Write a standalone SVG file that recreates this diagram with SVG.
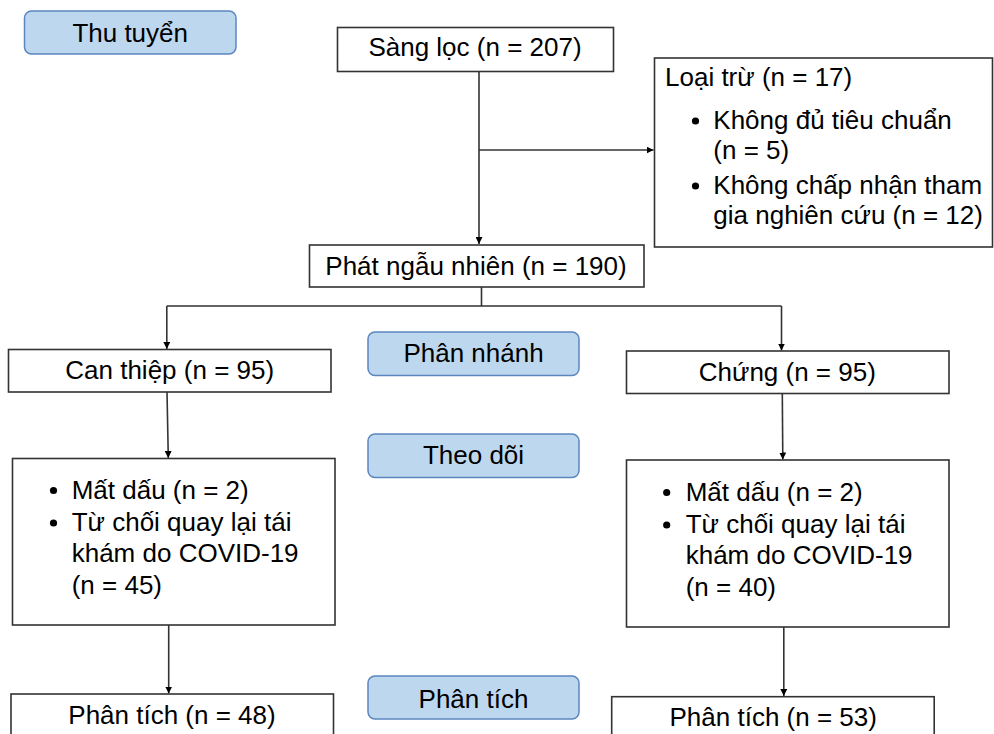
<svg xmlns="http://www.w3.org/2000/svg" width="994" height="734" viewBox="0 0 994 734">
<defs>
<style>
.box{fill:#fff;stroke:#333;stroke-width:1.6}
.lbl{fill:#BDD7EE;stroke:#5B86BE;stroke-width:1.5}
.t{font-family:"Liberation Sans",Arial,sans-serif;font-size:26px;fill:#000}
.c{text-anchor:middle}
.ln{fill:none;stroke:#333;stroke-width:1.6}
.dot{fill:#000}
</style>
<marker id="ah" viewBox="0 0 10 10" refX="10" refY="5" markerWidth="7" markerHeight="7" markerUnits="userSpaceOnUse" orient="auto">
<path d="M0,0 L10,5 L0,10 Z" fill="#000"/>
</marker>
</defs>
<rect width="994" height="734" fill="#fff"/>

<g id="connectors">
<path class="ln" d="M479,71.5 L479,244" marker-end="url(#ah)"/>
<path class="ln" d="M479,150 L653.5,150" marker-end="url(#ah)"/>
<path class="ln" d="M481.5,287 L481.5,306 M166.8,306 L781.5,306"/>
<path class="ln" d="M166.8,306 L166.8,349" marker-end="url(#ah)"/>
<path class="ln" d="M781.5,306 L781.5,350.5" marker-end="url(#ah)"/>
<path class="ln" d="M167,392 L168.3,458" marker-end="url(#ah)"/>
<path class="ln" d="M782.3,393.5 L782.8,459.5" marker-end="url(#ah)"/>
<path class="ln" d="M168.7,625 L168.7,693.5" marker-end="url(#ah)"/>
<path class="ln" d="M783.8,627 L783.8,696" marker-end="url(#ah)"/>
</g>

<g id="label-thu-tuyen">
<rect class="lbl" x="24.5" y="11" width="211.5" height="43" rx="7"/>
<text class="t c" x="130.2" y="41.5">Thu tuyển</text>
</g>

<g id="screening">
<rect class="box" x="337.5" y="27.5" width="276" height="44"/>
<text class="t c" x="475" y="56">Sàng lọc (n = 207)</text>
</g>

<g id="excluded">
<rect class="box" x="654.5" y="58" width="338" height="189"/>
<text class="t" x="665" y="86">Loại trừ (n = 17)</text>
<circle class="dot" cx="695.5" cy="121" r="3.6"/>
<text class="t" x="713.3" y="129">Không đủ tiêu chuẩn</text>
<text class="t" x="713.3" y="159">(n = 5)</text>
<circle class="dot" cx="695.5" cy="186" r="3.6"/>
<text class="t" x="713.3" y="194">Không chấp nhận tham</text>
<text class="t" x="713.3" y="224">gia nghiên cứu (n = 12)</text>
</g>

<g id="randomized">
<rect class="box" x="309.5" y="245" width="334.5" height="42"/>
<text class="t c" x="476" y="274.5">Phát ngẫu nhiên (n = 190)</text>
</g>

<g id="intervention">
<rect class="box" x="8.5" y="349.5" width="322.5" height="42.5"/>
<text class="t c" x="169.7" y="379">Can thiệp (n = 95)</text>
</g>

<g id="label-phan-nhanh">
<rect class="lbl" x="368" y="332" width="211" height="43.5" rx="7"/>
<text class="t c" x="473.5" y="362">Phân nhánh</text>
</g>

<g id="control">
<rect class="box" x="626.5" y="351" width="322.5" height="42.5"/>
<text class="t c" x="787.3" y="380.5">Chứng (n = 95)</text>
</g>

<g id="label-theo-doi">
<rect class="lbl" x="368" y="434" width="211" height="43.5" rx="7"/>
<text class="t c" x="473.5" y="464">Theo dõi</text>
</g>

<g id="lost-intervention">
<rect class="box" x="12.5" y="458.5" width="322.5" height="166.5"/>
<circle class="dot" cx="53.5" cy="490.5" r="3.6"/>
<text class="t" x="71.7" y="498.5">Mất dấu (n = 2)</text>
<circle class="dot" cx="53.5" cy="523" r="3.6"/>
<text class="t" x="71.7" y="530.5">Từ chối quay lại tái</text>
<text class="t" x="71.7" y="562">khám do COVID-19</text>
<text class="t" x="71.7" y="593.5">(n = 45)</text>
</g>

<g id="lost-control">
<rect class="box" x="626.5" y="460" width="322.5" height="167"/>
<circle class="dot" cx="666.7" cy="492.5" r="3.6"/>
<text class="t" x="685.7" y="500.5">Mất dấu (n = 2)</text>
<circle class="dot" cx="666.7" cy="525" r="3.6"/>
<text class="t" x="685.7" y="532.5">Từ chối quay lại tái</text>
<text class="t" x="685.7" y="564">khám do COVID-19</text>
<text class="t" x="685.7" y="595.5">(n = 40)</text>
</g>

<g id="label-phan-tich">
<rect class="lbl" x="368" y="676" width="211" height="43" rx="7"/>
<text class="t c" x="473.5" y="707.5">Phân tích</text>
</g>

<g id="analysis-intervention">
<rect class="box" x="11" y="694" width="322.5" height="60"/>
<text class="t c" x="172" y="723.5">Phân tích (n = 48)</text>
</g>

<g id="analysis-control">
<rect class="box" x="611.7" y="696.7" width="322.5" height="60"/>
<text class="t c" x="773.2" y="725.5">Phân tích (n = 53)</text>
</g>
</svg>
